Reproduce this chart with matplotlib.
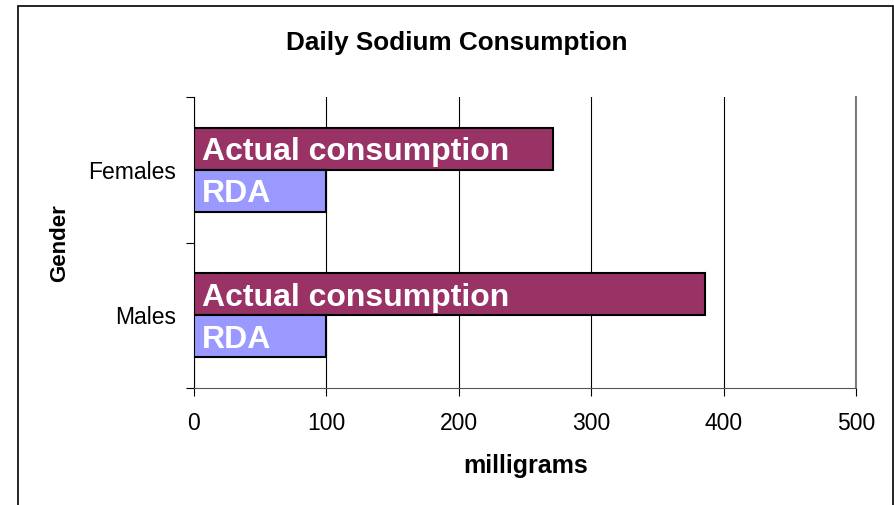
import numpy as np
import matplotlib.pyplot as plt
from matplotlib.patches import Rectangle

# 数据
genders = ['Males', 'Females']
actual = [386, 271]
rda = [100, 100]
bar_h = 0.29

plt.rcParams['font.family'] = ['Liberation Sans', 'DejaVu Sans']

fig = plt.figure(figsize=(8.95, 5.05), dpi=100)
ax = fig.add_axes([194 / 895, 1 - 388 / 505, 662 / 895, 291 / 505])

pos = np.arange(len(genders)) + 0.5
ax.barh(pos, actual, height=bar_h, align='edge', color='#993366',
        edgecolor='black', linewidth=1.5, zorder=3)
ax.barh(pos - bar_h, rda, height=bar_h, align='edge', color='#9999FF',
        edgecolor='black', linewidth=1.5, zorder=3)

# 条形内的文字
for p in pos:
    ax.annotate('Actual consumption', (0, p + bar_h / 2), xytext=(6, -2.5),
                textcoords='offset points', va='center', ha='left',
                color='white', fontsize=23, fontweight='bold', zorder=4)
    ax.annotate('RDA', (0, p - bar_h / 2), xytext=(6, -2.5),
                textcoords='offset points', va='center', ha='left',
                color='white', fontsize=23, fontweight='bold', zorder=4)

ax.set_xlim(0, 500)
ax.set_ylim(0, 2)
ax.set_xticks(np.arange(0, 501, 100))
ax.tick_params(axis='x', length=6, width=0.8, labelsize=16.5, pad=11)
ax.set_yticks([0, 1, 2])
ax.set_yticklabels([])
ax.set_yticks(pos, minor=True)
ax.set_yticklabels(genders, minor=True)
ax.tick_params(axis='y', which='major', length=6, width=0.8)
ax.tick_params(axis='y', which='minor', length=0, labelsize=16.5, pad=13)

ax.grid(axis='x', color='black', linewidth=0.8, zorder=0)
ax.axvline(500, color='#808080', linewidth=1.5, clip_on=False, zorder=1)
ax.spines['top'].set_visible(False)
ax.spines['right'].set_visible(False)
ax.spines['bottom'].set_color('#555555')
ax.spines['left'].set_color('black')

fig.text(457 / 895, 1 - 43 / 505, 'Daily Sodium Consumption', ha='center',
         va='center', fontsize=18.8, fontweight='bold')
fig.text(526 / 895, 1 - 466 / 505, 'milligrams', ha='center', va='center',
         fontsize=18, fontweight='bold')
fig.text(60 / 895, 1 - 243 / 505, 'Gender', ha='center', va='center',
         rotation=90, fontsize=16, fontweight='bold')

# 外框
fig.patches.append(Rectangle((18 / 895, -0.1), 875 / 895, 1.1 - 6 / 505,
                             transform=fig.transFigure, fill=False,
                             edgecolor='black', linewidth=1.2))

fig.savefig('out.png', dpi=100)
